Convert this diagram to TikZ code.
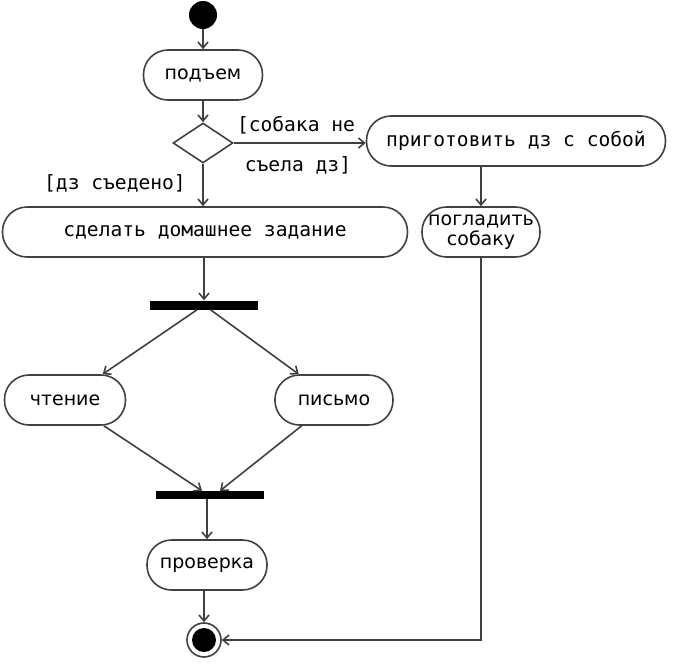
\documentclass[tikz,border=0pt]{standalone}
\usepackage{fontspec}
\setmainfont{DejaVu Sans}
\setmonofont{DejaVu Sans Mono}
\usetikzlibrary{shapes.geometric}
\usetikzlibrary{arrows.meta}
\begin{document}
\begin{tikzpicture}[x=1pt,y=-1pt,
  act/.style={draw=black!75,line width=1.6pt,rectangle,rounded corners=24.5pt,minimum height=50pt,inner sep=2pt,font=\fontsize{19}{20}\selectfont},
  mono/.style={font=\ttfamily\fontsize{19.6}{20}\selectfont},
  bar/.style={fill=black,minimum width=108pt,minimum height=9pt,inner sep=0pt},
  flow/.style={draw=black!75,line width=1.6pt,-{Straight Barb[length=6pt,width=10pt]}}]
\useasboundingbox (0,0) rectangle (675,667);
\node[circle,fill,minimum size=28pt,inner sep=0pt] (s) at (203,15) {};
\node[act,minimum width=119pt] (p) at (203,75) {подъем};
\node[diamond,draw=black!75,line width=1.6pt,aspect=1.5,minimum width=60pt,minimum height=40pt,inner sep=0pt] (d) at (203,143) {};
\node[act,mono,minimum width=299pt] (g) at (516,141) {приготовить дз с собой};
\node[act,minimum width=118pt,align=center] (k) at (481,232) {погладить\\собаку};
\node[act,mono,minimum width=405pt] (h) at (205,232) {сделать домашнее задание};
\node[bar] (f) at (204,305) {};
\node[act,minimum width=121pt] (r) at (65,400) {чтение};
\node[act,minimum width=118pt] (w) at (334,400) {письмо};
\node[bar,minimum height=8pt] (j) at (210,495) {};
\node[act,minimum width=120pt] (c) at (207,565) {проверка};
\node[draw=black!75,line width=1.6pt,circle,minimum size=34pt] (e) at (204,640) {};
\node[circle,fill,minimum size=24pt] (e2) at (e) {};
% guards
\node[mono] (l1) at (296,125) {[собака не};
\node[mono] (l2) at (298,165) {съела дз]};
\node[mono] (l3) at (115,183) {[дз съедено]};
\draw[flow] (s) -- (p);
\draw[flow] (p) -- (d);
\draw[flow] (d.east) -- (d.east -| g.west);
\draw[flow] (d.south) -- (d.south |- h.north);
\draw[flow] (k.north |- g.south) -- (k.north);
\draw[flow] (k.south) |- (e);
\draw[flow] (h.south -| f.north) -- (f.north);
\draw[flow] (f) -- (r);
\draw[flow] (f) -- (w);
\draw[flow] (r) -- ([xshift=-8pt]j.north);
\draw[flow] (w) -- ([xshift=10pt]j.north);
\draw[flow] (j.south -| c.north) -- (c.north);
\draw[flow] (c.south -| e.north) -- (e.north);
\end{tikzpicture}
\end{document}
